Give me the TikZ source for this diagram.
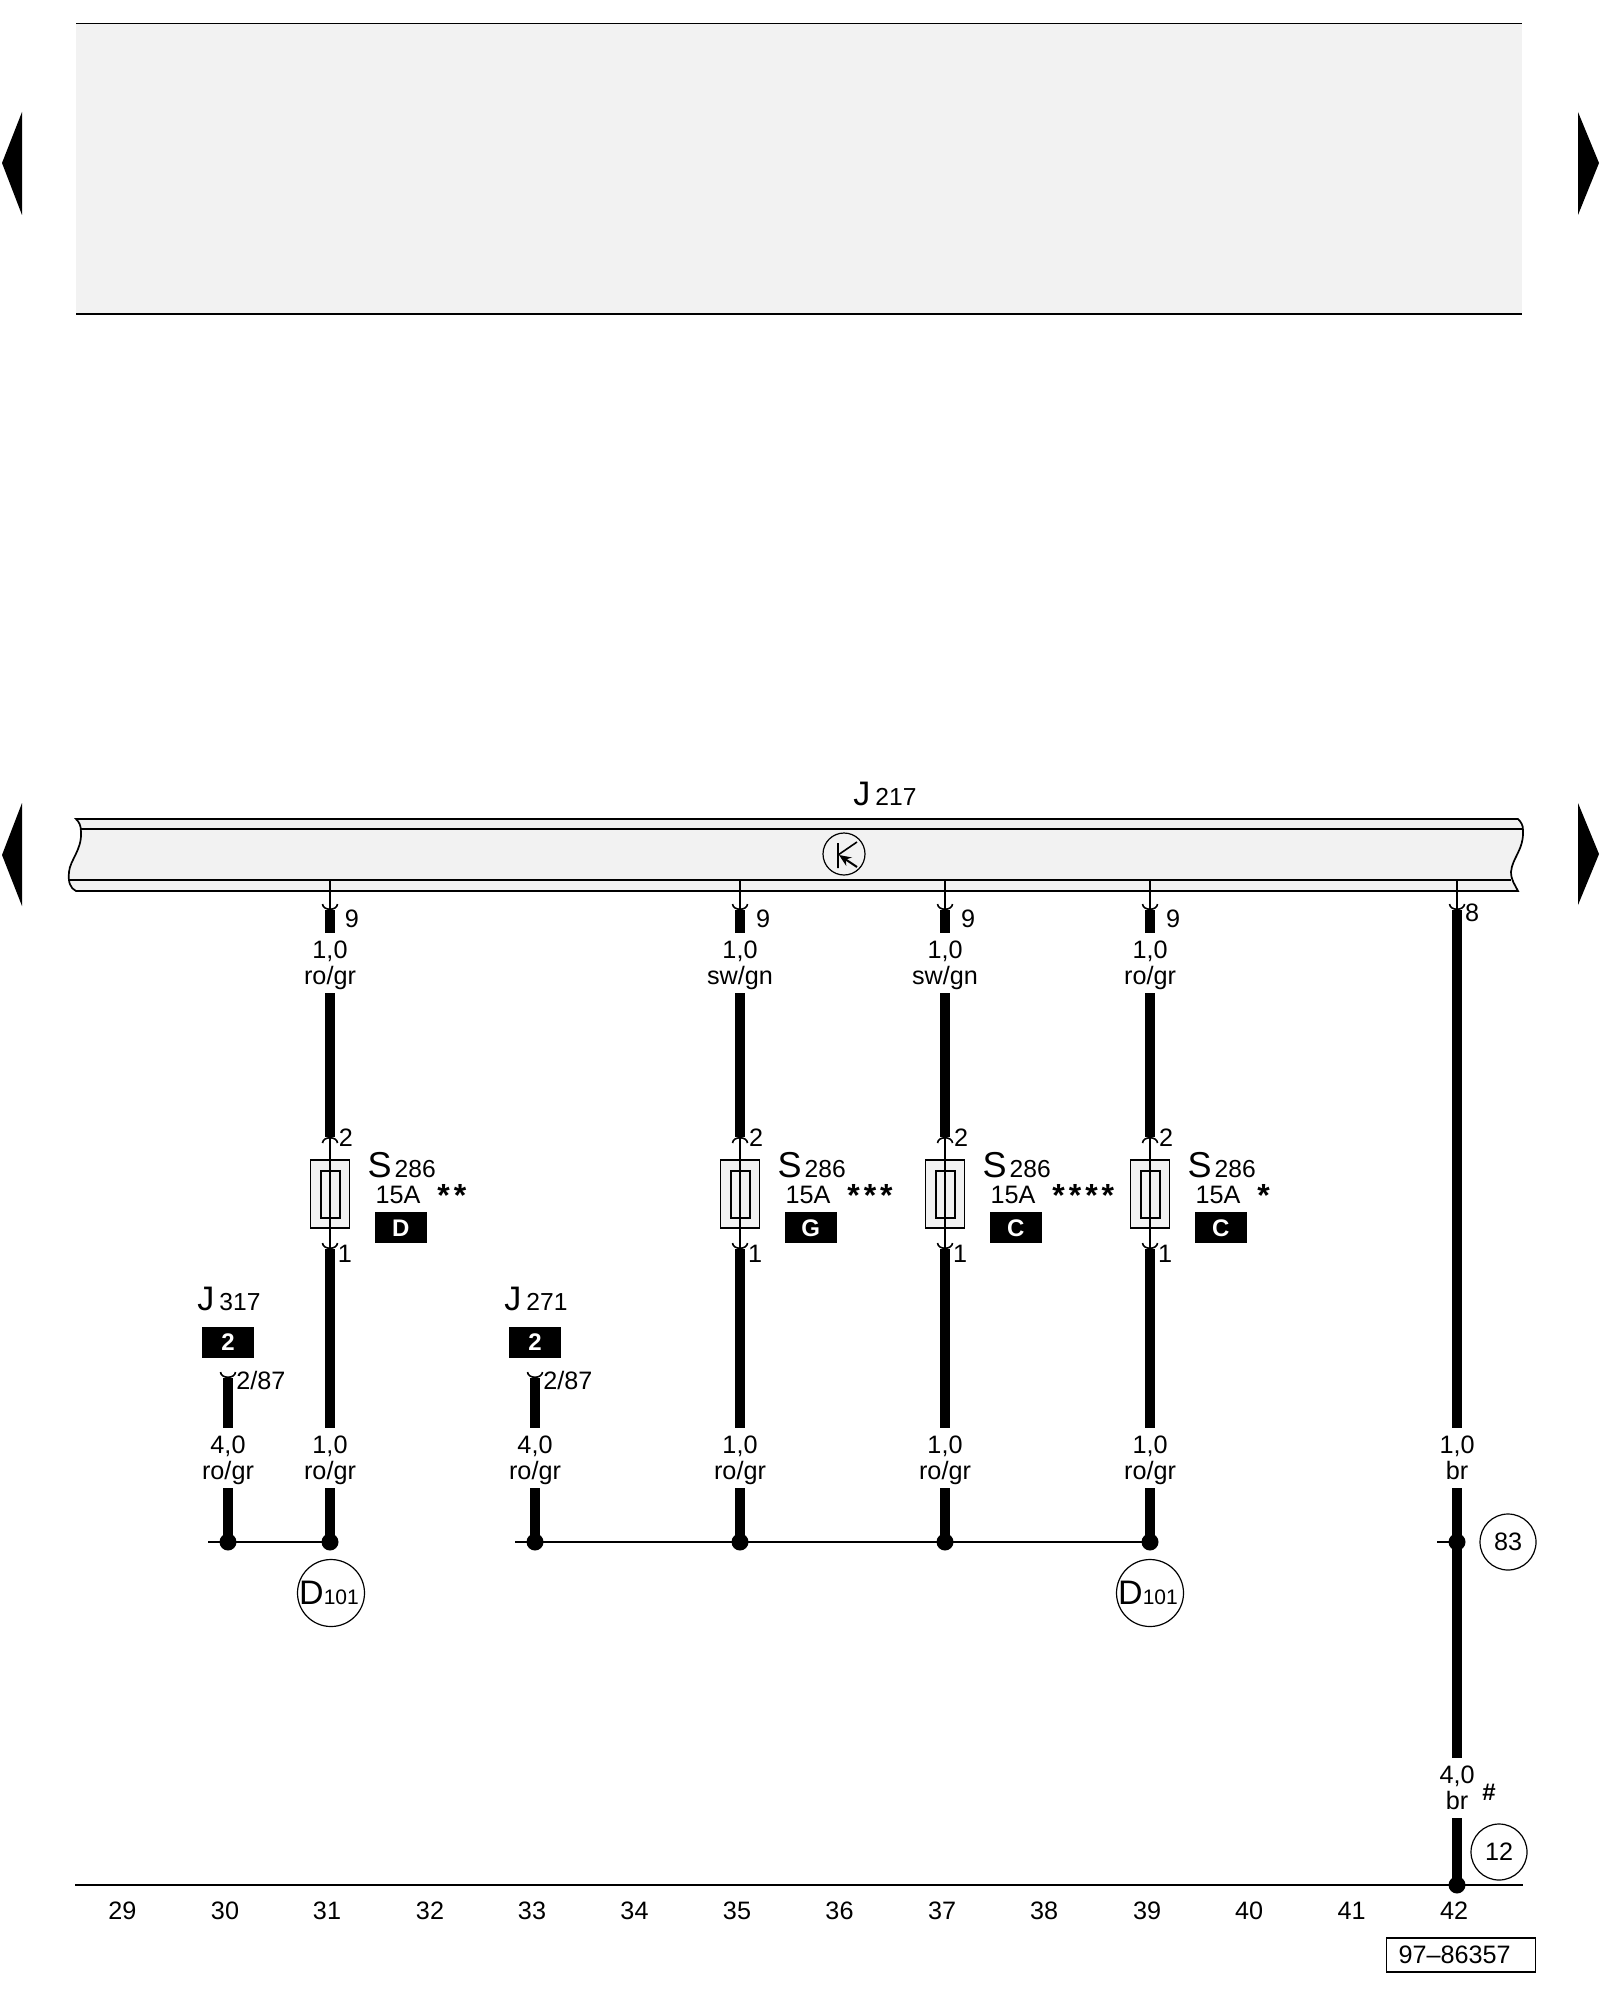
\documentclass[tikz,border=0pt]{standalone}
\usepackage{fontspec}
\setmainfont{Liberation Sans}
\usetikzlibrary{arrows.meta, positioning}
\definecolor{panelgray}{HTML}{F2F2F2}

\begin{document}
\begin{tikzpicture}[x=0.5pt, y=-0.5pt,
    lab/.style={inner sep=0pt, font=\fontsize{12.6}{13}\selectfont},
    wirelab/.style={lab, align=center, minimum height=30pt, execute at begin node={\rule[-2.7pt]{0pt}{27.2pt}}},
    wire/.style={line width=5pt},
    pinline/.style={line width=0.6pt},
    busline/.style={line width=0.8pt},
    outline/.style={draw, line width=0.85pt},
    joint/.style={circle, fill=black, minimum size=8.5pt, inner sep=0pt},
    ring/.style={circle, draw, line width=0.6pt, minimum size=28pt, inner sep=0pt, font=\fontsize{12.6}{13}\selectfont},
    bigring/.style={ring, minimum size=33.5pt},
    fuse/.style={rectangle, draw, line width=0.8pt, fill=panelgray, minimum width=19.5pt, minimum height=34pt, inner sep=0pt},
    fusein/.style={rectangle, draw, line width=1pt, minimum width=9.5pt, minimum height=23.5pt, inner sep=0pt},
    tag/.style={rectangle, fill=black, text=white, minimum width=26pt, minimum height=15.5pt, inner sep=0pt, font=\fontsize{12}{12}\selectfont\bfseries},
    stars/.style={inner sep=0pt, font=\fontsize{16}{16}\selectfont\bfseries},
    cupdown/.pic={\draw [line width=0.8pt] (-7.5,-6) .. controls (-7,1) and (7,1) .. (7.5,-6);},
    cupup/.pic={\draw [line width=0.8pt] (-7.5,6) .. controls (-7,-1) and (7,-1) .. (7.5,6);}
  ]
  \useasboundingbox (0,0) rectangle (1600,2000);

  % panels and page arrows
  \fill [panelgray] (76,23.5) rectangle (1522,314);
  \draw [outline] (76,23.5) -- (1522,23.5) (76,314) -- (1522,314);
  \fill (22,112) -- (2,163) -- (22,215) -- cycle;
  \fill (1578,112) -- (1599,163) -- (1578,215) -- cycle;
  \fill (22,803) -- (2,855) -- (22,906) -- cycle;
  \fill (1578,803) -- (1599,854) -- (1578,905) -- cycle;

  % control unit bar
  \draw [outline, fill=panelgray] (76,819) -- (1518,819)
      .. controls (1521,822) and (1523,825) .. (1523,830)
      .. controls (1524,850) and (1512,858) .. (1511,872)
      .. controls (1511,880) and (1515,885) .. (1518,891)
      -- (76,891)
      .. controls (70,888) and (68,882) .. (69,872)
      .. controls (70,860) and (82,850) .. (81,832)
      .. controls (81,825) and (79,822) .. (76,819) -- cycle;
  \draw [outline] (81,829) -- (1523,829) (69,880) -- (1511,880);

  \node (j217) [lab, anchor=west] at (853,794) {{\fontsize{17}{16}\selectfont J}\kern2.5pt{\fontsize{12.3}{13}\selectfont 217}};
  \node (relay) [bigring, minimum size=21pt, fill=panelgray] at (844,854) {};
  \draw [line width=0.8pt] (838,843) -- (838,868) (838,855) -- (857,842);
  \draw [-{Stealth[length=6pt,width=5pt]}, line width=1pt] (857,867) -- (839,855);

  % pins on the bar
  \coordinate (b31) at (330,880);
  \coordinate (b35) at (740,880);
  \coordinate (b37) at (945,880);
  \coordinate (b39) at (1150,880);
  \coordinate (b42) at (1457,880);
  \coordinate (t31) at (330,910);
  \coordinate (t35) at (740,910);
  \coordinate (t37) at (945,910);
  \coordinate (t39) at (1150,910);
  \coordinate (t42) at (1457,910);
  \pic at (t31) {cupdown};
  \pic at (t35) {cupdown};
  \pic at (t37) {cupdown};
  \pic at (t39) {cupdown};
  \pic at (t42) {cupdown};
  \node (p31) [lab] at (352,919) {9};
  \node (p35) [lab] at (763,919) {9};
  \node (p37) [lab] at (968,919) {9};
  \node (p39) [lab] at (1173,919) {9};
  \node (p42) [lab] at (1472,913) {8};

  % wire labels
  \node (w31a) [wirelab] at (330,963) {1,0\\ro/gr};
  \node (w35a) [wirelab] at (740,963) {1,0\\sw/gn};
  \node (w37a) [wirelab] at (945,963) {1,0\\sw/gn};
  \node (w39a) [wirelab] at (1150,963) {1,0\\ro/gr};
  \node (w30b) [wirelab] at (228,1458) {4,0\\ro/gr};
  \node (w31b) [wirelab] at (330,1458) {1,0\\ro/gr};
  \node (w33b) [wirelab] at (535,1458) {4,0\\ro/gr};
  \node (w35b) [wirelab] at (740,1458) {1,0\\ro/gr};
  \node (w37b) [wirelab] at (945,1458) {1,0\\ro/gr};
  \node (w39b) [wirelab] at (1150,1458) {1,0\\ro/gr};
  \node (w42b) [wirelab] at (1457,1458) {1,0\\br};
  \node (w42c) [wirelab] at (1457,1788) {4,0\\br};
  \node (hash) [lab, font=\fontsize{12}{12}\selectfont\bfseries] at (1489,1792) {\#};

  % fuses
  \node (f31) [fuse] at (330,1194) {};
  \node (f35) [fuse] at (740,1194) {};
  \node (f37) [fuse] at (945,1194) {};
  \node (f39) [fuse] at (1150,1194) {};
  \node (i31) [fusein] at (f31) {};
  \node (i35) [fusein] at (f35) {};
  \node (i37) [fusein] at (f37) {};
  \node (i39) [fusein] at (f39) {};

  \node (s31) [lab, right = 8.5pt of f31.north east, yshift=-3pt] {{\fontsize{18}{18}\selectfont S}\kern1.5pt{\fontsize{12.3}{13}\selectfont 286}};
  \node (s35) [lab, right = 8.5pt of f35.north east, yshift=-3pt] {{\fontsize{18}{18}\selectfont S}\kern1.5pt{\fontsize{12.3}{13}\selectfont 286}};
  \node (s37) [lab, right = 8.5pt of f37.north east, yshift=-3pt] {{\fontsize{18}{18}\selectfont S}\kern1.5pt{\fontsize{12.3}{13}\selectfont 286}};
  \node (s39) [lab, right = 8.5pt of f39.north east, yshift=-3pt] {{\fontsize{18}{18}\selectfont S}\kern1.5pt{\fontsize{12.3}{13}\selectfont 286}};
  \node (a31) [lab, right = 12.5pt of f31.east, yshift=-0.5pt] {15A};
  \node (a35) [lab, right = 12.5pt of f35.east, yshift=-0.5pt] {15A};
  \node (a37) [lab, right = 12.5pt of f37.east, yshift=-0.5pt] {15A};
  \node (a39) [lab, right = 12.5pt of f39.east, yshift=-0.5pt] {15A};
  \node (g31) [tag, right = 12pt of f31.south east, yshift=0.5pt] {D};
  \node (g35) [tag, right = 12pt of f35.south east, yshift=0.5pt] {G};
  \node (g37) [tag, right = 12pt of f37.south east, yshift=0.5pt] {C};
  \node (g39) [tag, right = 12pt of f39.south east, yshift=0.5pt] {C};
  \node (v31) [stars, right = 8pt of a31.east, yshift=-0.3pt] {*\kern2pt*};
  \node (v35) [stars, right = 8pt of a35.east, yshift=-0.3pt] {*\kern2pt*\kern2pt*};
  \node (v37) [stars, right = 8pt of a37.east, yshift=-0.3pt] {*\kern2pt*\kern2pt*\kern2pt*};
  \node (v39) [stars, right = 8pt of a39.east, yshift=-0.3pt] {*};

  \coordinate (u31) at (330,1137);
  \coordinate (u35) at (740,1137);
  \coordinate (u37) at (945,1137);
  \coordinate (u39) at (1150,1137);
  \coordinate (d31) at (330,1249);
  \coordinate (d35) at (740,1249);
  \coordinate (d37) at (945,1249);
  \coordinate (d39) at (1150,1249);
  \pic at (u31) {cupup};
  \pic at (u35) {cupup};
  \pic at (u37) {cupup};
  \pic at (u39) {cupup};
  \pic at (d31) {cupdown};
  \pic at (d35) {cupdown};
  \pic at (d37) {cupdown};
  \pic at (d39) {cupdown};
  \node (m31) [lab] at (346,1138) {2};
  \node (m35) [lab] at (756,1138) {2};
  \node (m37) [lab] at (961,1138) {2};
  \node (m39) [lab] at (1166,1138) {2};
  \node (o31) [lab] at (345,1254) {1};
  \node (o35) [lab] at (755,1254) {1};
  \node (o37) [lab] at (960,1254) {1};
  \node (o39) [lab] at (1165,1254) {1};

  % relays J317 and J271
  \node (j317) [lab, anchor=west] at (197,1299) {{\fontsize{17}{16}\selectfont J}\kern2.5pt{\fontsize{12.3}{13}\selectfont 317}};
  \node (j271) [lab, anchor=west] at (504,1299) {{\fontsize{17}{16}\selectfont J}\kern2.5pt{\fontsize{12.3}{13}\selectfont 271}};
  \node (g30) [tag] at (228,1342) {2};
  \node (g33) [tag] at (535,1342) {2};
  \coordinate (t30) at (228,1378);
  \coordinate (t33) at (535,1378);
  \pic at (t30) {cupdown};
  \pic at (t33) {cupdown};
  \node (p30) [lab, anchor=west] at (236,1380) {2/87};
  \node (p33) [lab, anchor=west] at (543,1380) {2/87};

  % joints and connections
  \node (k30) [joint] at (228,1542) {};
  \node (k31) [joint] at (330,1542) {};
  \node (k33) [joint] at (535,1542) {};
  \node (k35) [joint] at (740,1542) {};
  \node (k37) [joint] at (945,1542) {};
  \node (k39) [joint] at (1150,1542) {};
  \node (k42) [joint] at (1457,1542) {};
  \node (k42e) [joint] at (1457,1885) {};
  \coordinate (s30) at (208,1542);
  \coordinate (s33) at (515,1542);
  \coordinate (s42) at (1437,1542);
  \coordinate (gl) at (75,1885);
  \coordinate (gr) at (1523,1885);

  \node (d101a) [bigring] at (331,1593) {\kern-2pt{\fontsize{17}{15}\selectfont D}{\fontsize{10.5}{11}\selectfont 101}};
  \node (d101b) [bigring] at (1150,1593) {\kern-2pt{\fontsize{17}{15}\selectfont D}{\fontsize{10.5}{11}\selectfont 101}};
  \node (r83) [ring] at (1508,1542) {83};
  \node (r12) [ring] at (1499,1852) {12};

  \path [wire]
      (t31) edge (w31a.north)
      (t35) edge (w35a.north)
      (t37) edge (w37a.north)
      (t39) edge (w39a.north)
      (w31a.south) edge (u31)
      (w35a.south) edge (u35)
      (w37a.south) edge (u37)
      (w39a.south) edge (u39)
      (d31) edge (w31b.north)
      (d35) edge (w35b.north)
      (d37) edge (w37b.north)
      (d39) edge (w39b.north)
      (t30) edge (w30b.north)
      (t33) edge (w33b.north)
      (t42) edge (w42b.north)
      (w30b.south) edge (k30.center)
      (w31b.south) edge (k31.center)
      (w33b.south) edge (k33.center)
      (w35b.south) edge (k35.center)
      (w37b.south) edge (k37.center)
      (w39b.south) edge (k39.center)
      (w42b.south) edge (w42c.north)
      (w42c.south) edge (k42e.center)
      ;
  \path [pinline]
      (b31) edge (t31)
      (b35) edge (t35)
      (b37) edge (t37)
      (b39) edge (t39)
      (b42) edge (t42)
      (u31) edge (d31)
      (u35) edge (d35)
      (u37) edge (d37)
      (u39) edge (d39)
      ;
  \path [busline]
      (s30) edge (k31.center)
      (s33) edge (k39.center)
      (s42) edge (k42.center)
      (gl) edge (gr)
      ;

  % column numbers
  \node (n29) [lab] at (122.5,1911) {29};
  \node (n30) [lab] at (225,1911) {30};
  \node (n31) [lab] at (327,1911) {31};
  \node (n32) [lab] at (430,1911) {32};
  \node (n33) [lab] at (532,1911) {33};
  \node (n34) [lab] at (634.5,1911) {34};
  \node (n35) [lab] at (737,1911) {35};
  \node (n36) [lab] at (839.5,1911) {36};
  \node (n37) [lab] at (942,1911) {37};
  \node (n38) [lab] at (1044,1911) {38};
  \node (n39) [lab] at (1147,1911) {39};
  \node (n40) [lab] at (1249,1911) {40};
  \node (n41) [lab] at (1351.5,1911) {41};
  \node (n42) [lab] at (1454,1911) {42};

  \node (code) [lab, draw, line width=0.7pt, minimum width=74.5pt, minimum height=17pt, anchor=west, align=left] at (1386,1955) {97–86357\kern6.5pt};
\end{tikzpicture}
\end{document}
